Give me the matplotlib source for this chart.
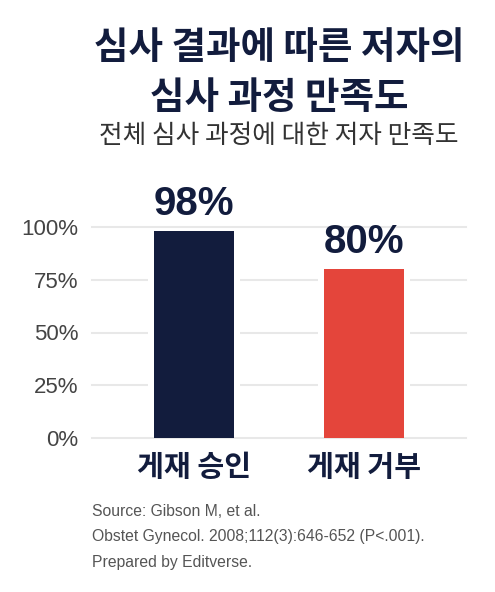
import matplotlib
matplotlib.use("Agg")
import matplotlib.pyplot as plt

categories = ["게재 승인", "게재 거부"]
values = [98, 80]
value_labels = ["98%", "80%"]
bar_colors = ["#121c3d", "#e4453b"]
yticks = [0, 25, 50, 75, 100]
ytick_labels = ["0%", "25%", "50%", "75%", "100%"]
title = "심사 결과에 따른 저자의\n심사 과정 만족도"
subtitle = "전체 심사 과정에 대한 저자 만족도"
footer = ["Source: Gibson M, et al.",
          "Obstet Gynecol. 2008;112(3):646-652 (P<.001).",
          "Prepared by Editverse."]

FAM = ["Liberation Sans", "Noto Sans CJK KR", "DejaVu Sans"]
KFAM = ["Noto Sans CJK KR", "DejaVu Sans"]
NAVY = "#121c3d"

W, H = 495, 592
fig = plt.figure(figsize=(W / 100, H / 100), dpi=100)
fig.patch.set_facecolor("white")

ax_left, ax_right = 92 / W, 466 / W
ax_bottom = 1 - 438 / H
ax_top = 1 - 227 / H
ax = fig.add_axes([ax_left, ax_bottom, ax_right - ax_left, ax_top - ax_bottom])

x = list(range(len(categories)))
ax.set_xlim(-0.6, len(categories) - 0.4)
ax.set_ylim(0, 100)

# gridlines
for t in yticks:
    ax.axhline(t, color="#e8e8e8", lw=1.5, zorder=1.6 if t == 0 else 0, clip_on=False)

# white backing to break gridlines around bars
ax.bar(x, values, width=0.47 + 0.075, color="white", zorder=1)
bars = ax.bar(x, values, width=0.47, color=bar_colors, zorder=2)

for xi, v, lab in zip(x, values, value_labels):
    ax.annotate(lab, (xi, v), xytext=(0, 8), textcoords="offset pixels",
                ha="center", va="bottom", fontsize=29, fontweight="bold",
                color=NAVY, family=FAM, annotation_clip=False)

ax.set_yticks(yticks)
ax.set_yticklabels(ytick_labels, family=FAM, fontsize=16, color="#444444")
ax.set_xticks(x)
ax.set_xticklabels(categories, family=KFAM, fontsize=21, fontweight="bold", color=NAVY)
ax.tick_params(axis="y", length=0, pad=10)
ax.tick_params(axis="x", length=0, pad=10)
for s in ax.spines.values():
    s.set_visible(False)

cx = (ax_left + ax_right) / 2
fig.text(cx, 1 - 47 / H, title.split("\n")[0], ha="center", va="center", fontsize=27,
         fontweight="bold", color=NAVY, family=KFAM)
fig.text(cx, 1 - 97 / H, title.split("\n")[1], ha="center", va="center", fontsize=27,
         fontweight="bold", color=NAVY, family=KFAM)
fig.text(cx, 1 - 136 / H, subtitle, ha="center", va="center", fontsize=18.5,
         color="#333333", family=KFAM)

for i, line in enumerate(footer):
    fig.text(92 / W, 1 - (511 + 25.5 * i) / H, line, ha="left", va="center",
             fontsize=11.3, color="#555555", family=FAM)

fig.savefig("out.png", dpi=100, facecolor="white")
